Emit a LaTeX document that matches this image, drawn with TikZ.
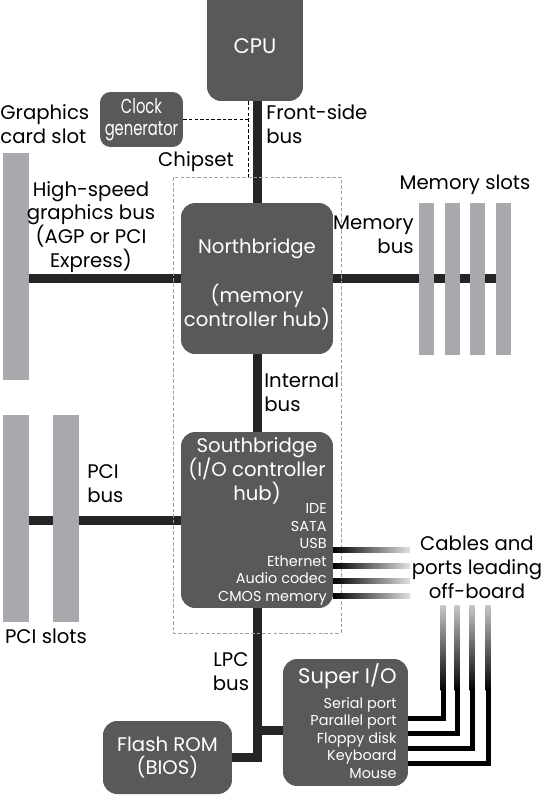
\documentclass[tikz,border=0pt]{standalone}
\usepackage{fontspec}
\setmainfont{Poppins}
\newfontfamily\condfont[FakeStretch=0.73]{Poppins}
\usepackage{xcolor}
\usetikzlibrary{backgrounds,calc}
\definecolor{boxgray}{RGB}{88,89,91}
\definecolor{slotgray}{RGB}{167,169,172}
\definecolor{busblack}{RGB}{38,36,37}
\definecolor{framegray}{RGB}{160,160,160}

\begin{document}
\begin{tikzpicture}[x=0.02cm,y=-0.02cm,
  every node/.style={font=\fontsize{11.2}{13.6}\selectfont,inner sep=0pt},
  box/.style={fill=boxgray,rounded corners=8pt,text=white,align=center},
  slot/.style={fill=slotgray,inner sep=0pt},
  small/.style={font=\fontsize{8.2}{9.95}\selectfont},
  bus/.style={draw=busblack,line width=0.18cm},
  cable/.style={draw=black,line width=0.1cm},
  clkline/.style={draw=black,line width=0.5pt,dash pattern=on 2pt off 1.2pt},
  chipframe/.style={draw=framegray,line width=0.5pt,dash pattern=on 2pt off 1.2pt}
]
  \useasboundingbox (0,0) rectangle (542,798);

  \draw[chipframe] (173,177) rectangle (341,633);

  \node[box,font=\fontsize{12}{14}\selectfont,text height=0.44cm,text depth=0cm,
        minimum width=1.92cm,minimum height=2.32cm] (cpu) at (255,43) {CPU};
  \node[box,font=\condfont\fontsize{11.5}{12.4}\selectfont,rounded corners=6pt,
        minimum width=1.66cm,minimum height=1.1cm] (clk) at (141.5,119.5) {Clock\\generator};
  \node[box,minimum width=3.04cm,minimum height=3.02cm] (nb) at (257,278.5) {};
  \node[text=white,align=center] (nbtitle) at (257,284.5)
        {Northbridge\\[0.5cm](memory\\controller hub)};
  \node[box,minimum width=3.04cm,minimum height=3.52cm] (sb) at (257,520) {};
  \node[text=white,align=center] (sbtitle) at (257,471) {Southbridge\\(I/O controller\\hub)};
  \node[text=white,small,align=right,anchor=east] (sblist) at (327,554.5)
        {IDE\\SATA\\USB\\Ethernet\\Audio codec\\CMOS memory};
  \node[box,minimum width=2.5cm,minimum height=2.54cm] (sio) at (345.5,722.5) {};
  \node[text=white,font=\fontsize{12}{14}\selectfont,anchor=east] (siotitle) at (397,676) {Super I/O};
  \node[text=white,small,align=right,anchor=east] (siolist) at (397,738)
        {Serial port\\Parallel port\\Floppy disk\\Keyboard\\Mouse};
  \node[box,minimum width=2.58cm,minimum height=1.46cm] (rom) at (167.5,757.5) {Flash ROM\\(BIOS)};

  \node[slot,minimum width=0.52cm,minimum height=4.54cm] (gslot) at (16,266.5) {};
  \node[slot,minimum width=0.52cm,minimum height=4.14cm] (pci1) at (16,518.5) {};
  \node[slot,minimum width=0.52cm,minimum height=4.14cm] (pci2) at (66,518.5) {};
  \foreach \i in {0,...,3}
    \node[slot,minimum width=0.3cm,minimum height=3.04cm] (mem\i) at ({426.5+25.7*\i},279) {};

  \coordinate (sioin) at ([yshift=-0.15cm]sio.west);
  \begin{scope}[on background layer]
    \draw[bus] (nb.north) -- (nb.north |- cpu.south);
    \draw[bus] (gslot.east |- nb.west) -- (nb.west);
    \draw[bus] (nb.east) -- (nb.east -| mem3.west);
    \draw[bus] (nb.south) -- (sb.north);
    \draw[bus] (pci1.east |- sb.west) -- (sb.west);
    \draw[bus] (sb.south) -- (sb.south |- rom.east) -- (rom.east);
    \draw[bus] (sb.south |- sioin) -- (sioin);
  \end{scope}

  \coordinate (clktap) at (248,177);
  \draw[clkline] (clk.east) -- (clk.east -| clktap);
  \draw[clkline] (clktap |- cpu.south) -- (clktap);

  \foreach \y in {550,566,581,596}
    \shade[left color=black,right color=black!12] (333,\y-2.5) rectangle (410,\y+2.5);
  \foreach \y/\x in {718/443,733/457,748/472,763/488} {
    \draw[cable] (sio.east |- 0,\y) -| (\x,690);
    \shade[top color=black!22,bottom color=black] (\x-2.5,605) rectangle (\x+2.5,690.5);
  }

  \node[align=left,anchor=west] (gslotlbl) at (0,124.5) {Graphics\\card slot};
  \node[align=center] (gbuslbl) at (91,227) {High-speed\\graphics bus\\(AGP or PCI\\Express)};
  \node (chiplbl) at (196,162) {Chipset};
  \node[align=left,anchor=west] (fsblbl) at (266,124) {Front-side\\bus};
  \node[align=right,anchor=east] (membuslbl) at (414,235) {Memory\\bus};
  \node (memslotlbl) at (465,185) {Memory slots};
  \node[align=left,anchor=west] (intlbl) at (264,392) {Internal\\bus};
  \node[align=left,anchor=west] (pcibuslbl) at (87,484) {PCI\\bus};
  \node (pcislotlbl) at (46,636) {PCI slots};
  \node[align=center] (cablelbl) at (477,567) {Cables and\\ports leading\\off-board};
  \node[align=center] (lpclbl) at (231,672) {LPC\\bus};
\end{tikzpicture}
\end{document}
